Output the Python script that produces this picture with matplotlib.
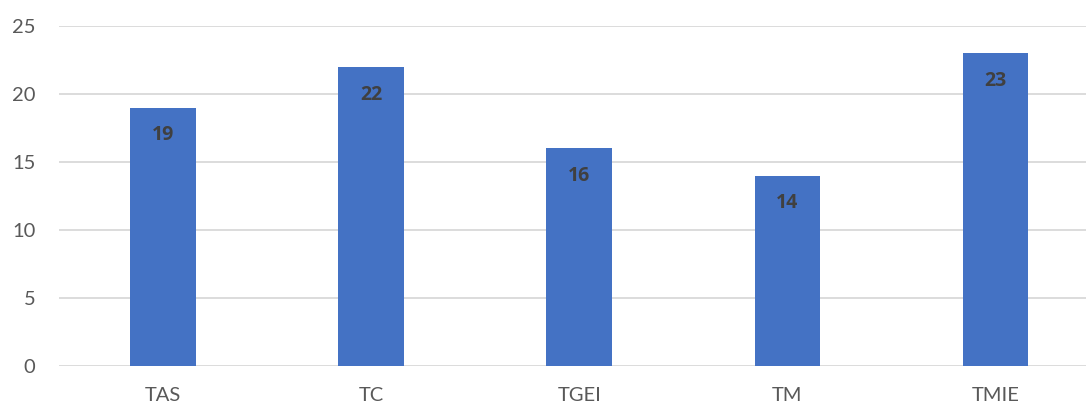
import matplotlib
matplotlib.use("Agg")
import matplotlib.pyplot as plt

categories = ["TAS", "TC", "TGEI", "TM", "TMIE"]
values = [19, 22, 16, 14, 23]
y_ticks = [0, 5, 10, 15, 20, 25]

plt.rcParams['font.family'] = ['Lato', 'DejaVu Sans']

W, H = 1086, 405
fig = plt.figure(figsize=(W / 100, H / 100), dpi=100)
ax = fig.add_axes([59 / W, (H - 366) / H, 1 - 59 / W, 340 / H])

x = range(len(categories))
bars = ax.bar(x, values, width=0.315, color='#4472C4', zorder=3)
for b, v in zip(bars, values):
    ax.annotate(str(v), (b.get_x() + b.get_width() / 2, v), xytext=(0, -20),
                textcoords='offset points', ha='center', va='center',
                fontsize=14, fontweight='bold', color='#404040', zorder=4,
                family=['Open Sans', 'DejaVu Sans'])

ax.set_xlim(-0.5, 4.435)
ax.set_ylim(0, 25)
ax.set_yticks(y_ticks)
ax.set_xticks(list(x))
ax.set_xticklabels(categories)
ax.yaxis.grid(True, color='#D9D9D9', linewidth=1.3, zorder=0)
for s in ax.spines.values():
    s.set_visible(False)
ax.tick_params(axis='both', length=0, labelsize=14.5, colors='#595959')
ax.tick_params(axis='x', pad=15)
ax.tick_params(axis='y', pad=17)

fig.savefig("out.png", dpi=100)
